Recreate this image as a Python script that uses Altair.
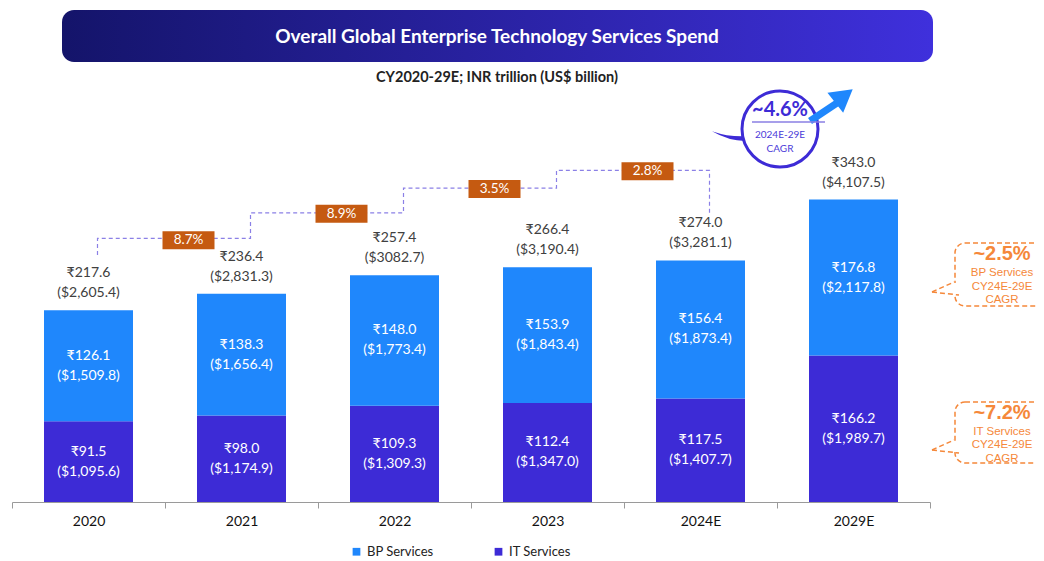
import altair as alt
import pandas as pd

# ---------------- data ----------------
years = ["2020", "2021", "2022", "2023", "2024E", "2029E"]
it_inr = [91.5, 98.0, 109.3, 112.4, 117.5, 166.2]
it_usd = ["($1,095.6)", "($1,174.9)", "($1,309.3)", "($1,347.0)", "($1,407.7)", "($1,989.7)"]
bp_inr = [126.1, 138.3, 148.0, 153.9, 156.4, 176.8]
bp_usd = ["($1,509.8)", "($1,656.4)", "($1,773.4)", "($1,843.4)", "($1,873.4)", "($2,117.8)"]
total_inr = [217.6, 236.4, 257.4, 266.4, 274.0, 343.0]
total_usd = ["($2,605.4)", "($2,831.3)", "($3082.7)", "($3,190.4)", "($3,281.1)", "($4,107.5)"]

growth_from = ["2020", "2021", "2022", "2023"]
growth_pct = ["8.7%", "8.9%", "3.5%", "2.8%"]
growth_level = [297.0, 327.0, 355.0, 375.0]

step_years = ["2020", "2020", "2021", "2021", "2022", "2022", "2023", "2023", "2024E", "2024E"]
step_levels = [280.0, 299.0, 299.0, 328.0, 328.0, 356.0, 356.0, 376.0, 376.0, 328.0]

series = ["BP Services", "IT Services"]
BP_COL = "#1f87fc"
IT_COL = "#3d2bd6"
ORANGE = "#f5883a"
FONT = "Lato"

# ---------------- tables ----------------
rows = []
for i, y in enumerate(years):
    rows.append(dict(year=y, series="IT Services", y0=0.0, y1=it_inr[i],
                     mid=it_inr[i] / 2, inr=f"₹{it_inr[i]:.1f}", usd=it_usd[i]))
    rows.append(dict(year=y, series="BP Services", y0=it_inr[i], y1=it_inr[i] + bp_inr[i],
                     mid=it_inr[i] + bp_inr[i] / 2, inr=f"₹{bp_inr[i]:.1f}", usd=bp_usd[i]))
seg = pd.DataFrame(rows)
tot = pd.DataFrame(dict(year=years, total=total_inr,
                        inr=[f"₹{v:.1f}" for v in total_inr], usd=total_usd))
growth = pd.DataFrame(dict(year=growth_from, level=growth_level, pct=growth_pct))
steps = pd.DataFrame(dict(year=step_years, level=step_levels, ord=list(range(len(step_years)))))
one = pd.DataFrame({"a": [0]})

# ---------------- scales ----------------
xscale = alt.Scale(domain=years, range=[0, 918], paddingInner=0, paddingOuter=0)
yscale = alt.Scale(domain=[0, 558], nice=False, zero=True)
X = alt.X("year:N", scale=xscale, title=None,
          axis=alt.Axis(labelFont=FONT, labelFontSize=14, labelFontWeight="normal",
                        labelColor="#111111", tickBand="extent", tickSize=6,
                        tickColor="#9a9a9a", domainColor="#9a9a9a", labelPadding=6,
                        labelAngle=0, grid=False))


def Y(f):
    return alt.Y(f, scale=yscale, axis=None, title=None)


bars = alt.Chart(seg).mark_bar(width=89).encode(
    x=X, y=Y("y0:Q"), y2="y1:Q",
    color=alt.Color("series:N", scale=alt.Scale(domain=series, range=[BP_COL, IT_COL]),
                    legend=alt.Legend(orient="none", legendX=338, legendY=535, direction="horizontal",
                                      title=None, symbolType="square", symbolSize=60,
                                      symbolStrokeWidth=0, labelFont=FONT, labelFontSize=13,
                                      labelColor="#222222", columnPadding=58, labelOffset=4)),
)
seg_t1 = alt.Chart(seg).mark_text(dy=-10, color="white", fontSize=14, font=FONT).encode(
    x=X, y=Y("mid:Q"), text="inr:N")
seg_t2 = alt.Chart(seg).mark_text(dy=10, color="white", fontSize=14, font=FONT).encode(
    x=X, y=Y("mid:Q"), text="usd:N")
tot_t1 = alt.Chart(tot).mark_text(dy=-37, color="#404040", fontSize=14, font=FONT).encode(
    x=X, y=Y("total:Q"), text="inr:N")
tot_t2 = alt.Chart(tot).mark_text(dy=-17, color="#404040", fontSize=14, font=FONT).encode(
    x=X, y=Y("total:Q"), text="usd:N")

step_line = alt.Chart(steps).mark_line(strokeDash=[4, 3], color="#8b80e6", strokeWidth=1.2,
                                       xOffset=9).encode(
    x=X, y=Y("level:Q"), order="ord:Q")
box_path = "M-1,-0.346L1,-0.346L1,0.346L-1,0.346Z"
g_box = alt.Chart(growth).mark_point(shape=box_path, size=2704, filled=True, fill="#c55a11",
                                     opacity=1, strokeWidth=0, xOffset=100).encode(
    x=X, y=Y("level:Q"))
g_txt = alt.Chart(growth).mark_text(color="white", fontSize=13.5, font=FONT, xOffset=100).encode(
    x=X, y=Y("level:Q"), text="pct:N")


# ---------------- decorations ----------------
def txt(s, x, y, **kw):
    return alt.Chart(one).mark_text(text=s, **kw).encode(x=alt.value(x), y=alt.value(y))


def rule(x1, y1, x2, y2, **kw):
    return alt.Chart(one).mark_rule(**kw).encode(
        x=alt.value(x1), x2=alt.value(x2), y=alt.value(y1), y2=alt.value(y2))


grad = alt.Gradient(gradient="linear",
                    stops=[alt.GradientStop(color="#14146a", offset=0),
                           alt.GradientStop(color="#3f30dc", offset=1)],
                    x1=0, x2=1, y1=0, y2=0)
banner = alt.Chart(one).mark_rect(cornerRadius=12, color=grad).encode(
    x=alt.value(50), x2=alt.value(921), y=alt.value(0), y2=alt.value(52))
title = txt("Overall Global Enterprise Technology Services Spend", 485, 27,
            color="white", fontSize=19, fontWeight="bold", font=FONT)
subtitle = txt("CY2020-29E; INR trillion (US$ billion)", 485, 68,
               color="#222222", fontSize=14.5, fontWeight="bold", font=FONT)

swoosh_path = "M-1,-0.2Q0,0.15 1,0.05L1,0.3Q0,0.38 -1,-0.2Z"
swoosh = alt.Chart(one).mark_point(shape=swoosh_path, size=1444, filled=True, fill=IT_COL,
                                   opacity=1, strokeWidth=0).encode(
    x=alt.value(719), y=alt.value(125))
circle = alt.Chart(one).mark_point(shape="circle", size=5776, filled=True, fill="white",
                                   stroke=IT_COL, strokeWidth=3, opacity=1).encode(
    x=alt.value(768), y=alt.value(119))
arrow_shaft = rule(798, 111, 828, 91, color=BP_COL, strokeWidth=7)
arrow_head = alt.Chart(one).mark_point(shape="triangle-right", size=650, filled=True,
                                       fill=BP_COL, opacity=1, angle=322, strokeWidth=0).encode(
    x=alt.value(832), y=alt.value(86))
c_div = rule(740, 112, 813, 112, color="#8a7fe3", strokeWidth=1.5)
c_t1 = txt("~4.6%", 768, 100, color=IT_COL, fontSize=20, fontWeight="bold", font=FONT)
c_t2 = txt("2024E-29E", 768, 125, color="#4b3bd9", fontSize=10, font=FONT)
c_t3 = txt("CAGR", 768, 139, color="#4b3bd9", fontSize=10, font=FONT)


def callout(top, bottom, tip_y, up_y, lo_y, big, lines, big_y, line_ys):
    box = alt.Chart(one).mark_rect(cornerRadius=10, fill="white", stroke=ORANGE,
                                   strokeDash=[5, 3], strokeWidth=1.5).encode(
        x=alt.value(943), x2=alt.value(1045), y=alt.value(top), y2=alt.value(bottom))
    cover = rule(943, up_y + 1, 943, lo_y - 1, color="white", strokeWidth=4)
    t1 = rule(920, tip_y, 942, up_y, color=ORANGE, strokeWidth=1.5, strokeDash=[5, 3])
    t2 = rule(920, tip_y, 947, lo_y, color=ORANGE, strokeWidth=1.5, strokeDash=[5, 3])
    parts = [box, cover, t1, t2,
             txt(big, 990, big_y, color=ORANGE, fontSize=20, fontWeight="bold",
                 font="Liberation Sans")]
    for s, yy in zip(lines, line_ys):
        parts.append(txt(s, 990, yy, color=ORANGE, fontSize=11.5, font="Liberation Sans"))
    return parts


bp_call = callout(233, 296, 282, 272, 285, "~2.5%", ["BP Services", "CY24E-29E", "CAGR"],
                  244, [263, 277, 290])
it_call = callout(392, 453, 440, 430, 443, "~7.2%", ["IT Services", "CY24E-29E", "CAGR"],
                  403, [422, 435, 449])

chart = alt.layer(
    banner, title, subtitle,
    bars, seg_t1, seg_t2, tot_t1, tot_t2,
    step_line, g_box, g_txt,
    swoosh, circle, arrow_shaft, arrow_head, c_div, c_t1, c_t2, c_t3,
    *bp_call, *it_call,
).properties(
    width=1024, height=492,
    autosize=alt.AutoSizeParams(type="none"),
    padding={"left": 4, "top": 2, "right": 0, "bottom": 58},
).configure_view(stroke=None)

chart.save("out.html", embed_options={"renderer": "svg", "actions": False})
